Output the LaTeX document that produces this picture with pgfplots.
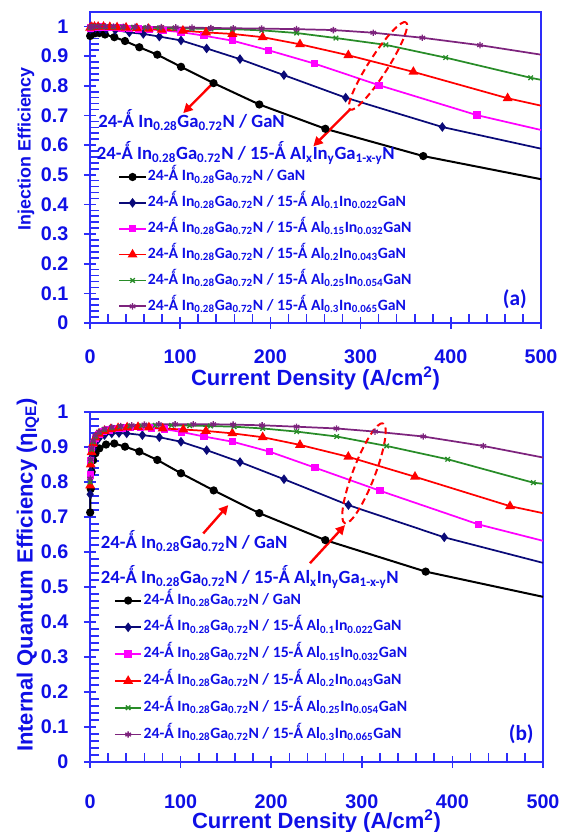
\documentclass[border=0pt]{standalone}
\usepackage{fontspec}
\setmainfont{Liberation Sans}
\newfontfamily\calfont{Carlito}
\usepackage{pgfplots}
\pgfplotsset{compat=1.18}
\usetikzlibrary{arrows.meta}
\definecolor{txtblue}{RGB}{15,15,230}
\definecolor{axblue}{RGB}{45,45,250}
\definecolor{cnavy}{RGB}{10,10,120}
\definecolor{cmag}{RGB}{255,0,255}
\definecolor{cred}{RGB}{255,0,0}
\definecolor{cgreen}{RGB}{40,140,40}
\definecolor{cpurp}{RGB}{125,35,125}
\newcommand{\Ang}{Ǻ}
\newcommand{\lbl}[2]{24-\Ang{} In\textsubscript{0.28}Ga\textsubscript{0.72}N / 15-\Ang{} Al\textsubscript{#1}In\textsubscript{#2}GaN}
\tikzset{
  annot/.style={anchor=base west, font=\calfont\bfseries\fontsize{14}{17}\selectfont, text=txtblue, inner sep=0pt},
  rarrow/.style={cred, line width=1.8pt, -{Triangle[length=7pt,width=7pt]}},
}
\pgfplotsset{
  panel/.style={
    scale only axis, anchor=south west, clip=false,
    xmin=0, xmax=500, ymin=0,
    xtick={0,100,200,300,400,500},
    ytick={0,0.1,0.2,0.3,0.4,0.5,0.6,0.7,0.8,0.9,1},
    minor x tick num=4, minor y tick num=4,
    xtick pos=left, ytick pos=left,
    tick align=center,
    major tick length=9pt, minor tick length=6.4pt,
    every minor x tick/.append style={yshift=3.2pt},
    every minor y tick/.append style={xshift=3.2pt},
    axis line style={draw=axblue, line width=1.5pt},
    tick style={draw=axblue, line width=1.2pt},
    /pgf/number format/assume math mode=true,
    tick label style={font=\bfseries\fontsize{14.8}{17}\selectfont, text=txtblue, inner sep=0pt},
    yticklabel style={xshift=-11.5pt},
    label style={font=\bfseries\fontsize{16.5}{19}\selectfont, text=txtblue, inner sep=0pt},
    legend cell align=left,
    legend image code/.code={\draw[mark repeat=2,mark phase=2] plot coordinates {(0pt,0pt) (10pt,0pt) (20pt,0pt)};},
    legend style={draw=none, fill=none, anchor=north west, inner sep=0pt,
      font=\calfont\bfseries\fontsize{11.8}{14}\selectfont, text=txtblue,
      nodes={inner sep=0.8pt, text height=9pt, text depth=3.5pt}},
  },
  sblack/.style={black, line width=1.5pt, mark=*, mark size=2.3pt},
  snavy/.style={cnavy, line width=1.3pt, mark=diamond*, mark size=2.6pt},
  smag/.style={cmag, line width=1.3pt, mark=square*, mark size=2.1pt},
  sred/.style={cred, line width=1.3pt, mark=triangle*, mark size=3pt},
  sgreen/.style={cgreen, line width=1.3pt, mark=x, mark size=2.4pt, mark options={line width=1pt}},
  spurp/.style={cpurp, line width=1.3pt, mark=asterisk, mark size=2.4pt, mark options={line width=1pt}},
  tail/.style={no marks, forget plot},
}
\begin{document}
\begin{tikzpicture}
\useasboundingbox (0,0) rectangle (424.5pt,-624pt);
% ---------------- panel (a)
\begin{axis}[panel, at={(67.5pt,-242.25pt)}, width=338.25pt, height=233.5pt, ymax=1.05,
  xlabel={Current Density (A/cm\textsuperscript{2})},
  ylabel={Injection Efficiency},
  xticklabel style={yshift=-15.1pt},
  xlabel style={at={(axis description cs:0.5,-0.177)}, anchor=center},
  ylabel style={at={(axis description cs:-0.142,0.56)}, anchor=center, font=\bfseries\fontsize{13.4}{16}\selectfont},
  legend style={at={(axis description cs:0.062,0.5)}, row sep=5.3pt},
]
\addplot[sblack] coordinates {(0.2,0.968) (1,0.972) (2.5,0.976) (5.5,0.977) (10.4,0.978) (16.6,0.973) (27,0.964) (38.8,0.951) (54.7,0.930) (74.6,0.905) (100.9,0.864) (137,0.809) (187.7,0.737) (260.9,0.655) (369.5,0.563)};
\addlegendentry{24-\Ang{} In\textsubscript{0.28}Ga\textsubscript{0.72}N / GaN}
\addplot[sblack, tail] coordinates {(369.5,0.563) (500,0.485)};
\addplot[snavy] coordinates {(0.2,0.990) (1,0.993) (3,0.994) (6,0.994) (11,0.993) (18,0.991) (28,0.988) (43.6,0.980) (59.1,0.975) (76.9,0.966) (100.9,0.953) (129.3,0.926) (166.3,0.890) (215,0.836) (283.4,0.760) (390.6,0.661)};
\addlegendentry{\lbl{0.1}{0.022}}
\addplot[snavy, tail] coordinates {(390.6,0.661) (500,0.588)};
\addplot[smag] coordinates {(0.2,0.995) (2,0.997) (5,0.998) (9,0.998) (14,0.998) (20,0.997) (27,0.996) (35,0.995) (44,0.994) (54,0.992) (66,0.990) (81,0.987) (101,0.981) (126.4,0.969) (158.2,0.952) (197.7,0.920) (248.7,0.875) (320.4,0.802) (429,0.701)};
\addlegendentry{\lbl{0.15}{0.032}}
\addplot[smag, tail] coordinates {(429,0.701) (500,0.651)};
\addplot[sred] coordinates {(0.2,0.996) (2,0.998) (5,0.999) (9,0.999) (15,0.999) (22,0.998) (30,0.997) (40,0.996) (52,0.994) (65,0.992) (79.5,0.989) (103,0.986) (128.6,0.980) (157.8,0.975) (191.4,0.964) (232.8,0.940) (286.4,0.903) (358.5,0.847) (463,0.758)};
\addlegendentry{\lbl{0.2}{0.043}}
\addplot[sred, tail] coordinates {(463,0.758) (500,0.733)};
\addplot[sgreen] coordinates {(0.2,0.997) (2,0.999) (5,1.0) (10,1.0) (17,0.999) (26,0.999) (36,0.998) (48,0.997) (62,0.996) (77,0.995) (94,0.994) (113,0.993) (134,0.992) (158,0.991) (190.3,0.987) (229.1,0.978) (272.7,0.961) (328,0.938) (394.3,0.895) (488.6,0.827)};
\addlegendentry{\lbl{0.25}{0.054}}
\addplot[sgreen, tail] coordinates {(488.6,0.827) (500,0.820)};
\addplot[spurp] coordinates {(0.2,0.998) (2,0.999) (5,1.0) (10,1.0) (17,1.0) (26,1.0) (37,0.999) (50,0.999) (64,0.998) (79,0.998) (95,0.997) (113,0.996) (134,0.995) (158.9,0.994) (190.3,0.993) (229,0.991) (269.8,0.988) (314,0.979) (368.4,0.962) (432.4,0.937)};
\addlegendentry{\lbl{0.3}{0.065}}
\addplot[spurp, tail] coordinates {(432.4,0.937) (500,0.905)};
\node[annot] at (axis cs:8.9,0.658) {24-\Ang{} In\textsubscript{0.28}Ga\textsubscript{0.72}N\ /\ GaN};
\node[annot] at (axis cs:7.4,0.551) {24-\Ang{} In\textsubscript{0.28}Ga\textsubscript{0.72}N\ /\ 15-\Ang{} Al\textsubscript{x}In\textsubscript{y}Ga\textsubscript{1-x-y}N};
\draw[rarrow] (axis cs:136.7,0.810) -- (axis cs:103.4,0.708);
\draw[rarrow] (axis cs:288.2,0.720) -- (axis cs:247.6,0.596);
\draw[cred, line width=1.5pt, dash pattern=on 5pt off 3pt] (axis cs:319.3,0.867) ellipse [x radius=38.9pt, y radius=7.1pt, rotate=57.3];
\node[font=\calfont\bfseries\fontsize{16}{19}\selectfont, text=txtblue] at (axis cs:471,0.081) {(a)};
\end{axis}
% ---------------- panel (b)
\begin{axis}[panel, at={(67.5pt,-571.5pt)}, width=339.75pt, height=262.5pt, ymax=1,
  xlabel={Current Density (A/cm\textsuperscript{2})},
  ylabel={Internal Quantum Efficiency (η\textsubscript{IQE})},
  xticklabel style={yshift=-19.5pt},
  xlabel style={at={(axis description cs:0.5,-0.169)}, anchor=center},
  ylabel style={at={(axis description cs:-0.137,0.534)}, anchor=center},
  legend style={at={(axis description cs:0.052,0.489)}, row sep=6pt},
]
\addplot[sblack] coordinates {(0.2,0.713) (0.8,0.780) (1.8,0.829) (3.5,0.862) (6,0.882) (10.3,0.896) (17.7,0.907) (26.8,0.910) (38.6,0.901) (54.4,0.887) (74.3,0.863) (100.4,0.825) (136.5,0.776) (186.9,0.711) (259.7,0.634) (370.5,0.544)};
\addlegendentry{24-\Ang{} In\textsubscript{0.28}Ga\textsubscript{0.72}N / GaN}
\addplot[sblack, tail] coordinates {(370.5,0.544) (500,0.472)};
\addplot[snavy] coordinates {(0.2,0.765) (0.8,0.830) (1.8,0.870) (3.5,0.895) (6,0.912) (10,0.925) (16,0.934) (24,0.939) (32,0.940) (40.5,0.939) (57.8,0.934) (76.5,0.928) (100.4,0.915) (128.8,0.891) (165.6,0.857) (214.1,0.808) (285.2,0.734) (391,0.642)};
\addlegendentry{\lbl{0.1}{0.022}}
\addplot[snavy, tail] coordinates {(391,0.642) (500,0.569)};
\addplot[smag] coordinates {(0.2,0.820) (0.8,0.860) (1.8,0.890) (3.5,0.910) (6,0.925) (10,0.936) (15,0.944) (21,0.949) (28,0.952) (36,0.954) (45,0.955) (56,0.955) (68,0.954) (82,0.951) (101,0.943) (125.8,0.930) (157.5,0.915) (197.9,0.887) (248.3,0.841) (320.1,0.775) (428.6,0.679)};
\addlegendentry{\lbl{0.15}{0.032}}
\addplot[smag, tail] coordinates {(428.6,0.679) (500,0.632)};
\addplot[sred] coordinates {(0.2,0.790) (0.8,0.850) (1.8,0.885) (3.5,0.910) (6,0.927) (10,0.938) (16,0.946) (23,0.951) (31,0.954) (41,0.956) (53,0.957) (65,0.956) (80.2,0.953) (103,0.950) (128,0.946) (157.1,0.939) (190.6,0.928) (231.8,0.906) (285.1,0.872) (358.7,0.815) (463.6,0.731)};
\addlegendentry{\lbl{0.2}{0.043}}
\addplot[sred, tail] coordinates {(463.6,0.731) (500,0.711)};
\addplot[sgreen] coordinates {(0.2,0.800) (0.8,0.860) (1.8,0.893) (3.5,0.915) (6,0.930) (10,0.942) (16,0.950) (24,0.955) (33,0.958) (44,0.960) (57,0.961) (72,0.962) (90,0.962) (110,0.961) (133,0.960) (159,0.958) (190.6,0.953) (228.1,0.944) (272.3,0.930) (327.4,0.903) (394.8,0.865) (489.3,0.798)};
\addlegendentry{\lbl{0.25}{0.054}}
\addplot[sgreen, tail] coordinates {(489.3,0.798) (500,0.795)};
\addplot[spurp] coordinates {(0.2,0.810) (0.8,0.865) (1.8,0.897) (3.5,0.918) (6,0.933) (10,0.944) (16,0.952) (24,0.957) (34,0.960) (46,0.962) (60,0.964) (76,0.965) (94,0.965) (114,0.965) (136,0.965) (158,0.964) (190,0.962) (228,0.958) (272,0.953) (314.6,0.944) (367.9,0.930) (434.1,0.903)};
\addlegendentry{\lbl{0.3}{0.065}}
\addplot[spurp, tail] coordinates {(434.1,0.903) (500,0.870)};
\node[annot] at (axis cs:11.8,0.611) {24-\Ang{} In\textsubscript{0.28}Ga\textsubscript{0.72}N\ /\ GaN};
\node[annot] at (axis cs:11.8,0.509) {24-\Ang{} In\textsubscript{0.28}Ga\textsubscript{0.72}N\ /\ 15-\Ang{} Al\textsubscript{x}In\textsubscript{y}Ga\textsubscript{1-x-y}N};
\draw[rarrow] (axis cs:125,0.653) -- (axis cs:152.6,0.734);
\draw[rarrow] (axis cs:242.8,0.568) -- (axis cs:281.5,0.677);
\draw[cred, line width=1.5pt, dash pattern=on 5pt off 3pt] (axis cs:302.4,0.825) ellipse [x radius=40.1pt, y radius=8.25pt, rotate=69];
\node[font=\calfont\bfseries\fontsize{16}{19}\selectfont, text=txtblue] at (axis cs:476,0.08) {(b)};
\end{axis}
\end{tikzpicture}
\end{document}
